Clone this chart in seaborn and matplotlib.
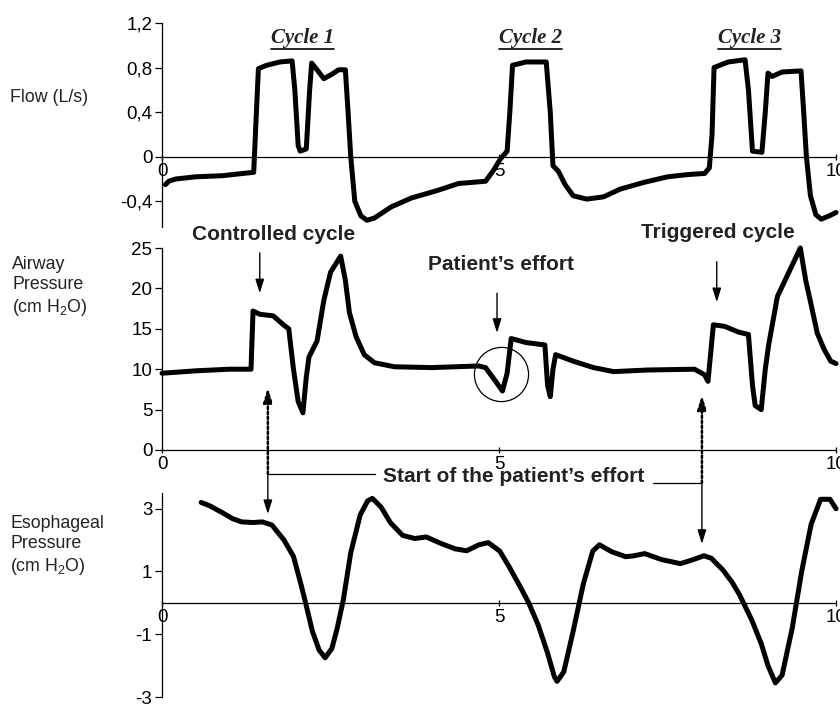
import matplotlib
matplotlib.use("Agg")
import matplotlib.pyplot as plt
import pandas as pd
import seaborn as sns
from matplotlib.lines import Line2D
from matplotlib.transforms import IdentityTransform

# Flow trace (L/s) against time (s)
flow_t = [0.05, 0.10, 0.20, 0.50, 0.90, 1.20, 1.36, 1.40, 1.43, 1.55, 1.75, 1.93,
          1.97, 2.02, 2.05, 2.14, 2.19, 2.22, 2.30, 2.40, 2.52, 2.62, 2.72, 2.76,
          2.80, 2.86, 2.95, 3.04, 3.15, 3.40, 3.70, 4.10, 4.40, 4.80, 4.92, 5.02,
          5.12, 5.16, 5.20, 5.40, 5.70, 5.76, 5.80, 5.88, 5.98, 6.10, 6.30, 6.55,
          6.80, 7.15, 7.50, 7.80, 8.05, 8.12, 8.16, 8.19, 8.40, 8.65, 8.70, 8.76,
          8.90, 8.95, 8.99, 9.05, 9.20, 9.48, 9.52, 9.56, 9.62, 9.70, 9.78, 9.90,
          10.0]
flow_v = [-0.25, -0.22, -0.20, -0.18, -0.17, -0.15, -0.14, 0.40, 0.79, 0.82, 0.85, 0.86,
          0.60, 0.10, 0.05, 0.07, 0.60, 0.84, 0.78, 0.70, 0.74, 0.78, 0.78, 0.40,
          0.00, -0.40, -0.53, -0.57, -0.55, -0.45, -0.37, -0.30, -0.24, -0.22, -0.12, -0.02,
          0.05, 0.40, 0.82, 0.85, 0.85, 0.40, -0.08, -0.13, -0.25, -0.35, -0.38, -0.36,
          -0.29, -0.23, -0.18, -0.16, -0.15, -0.10, 0.20, 0.80, 0.85, 0.87, 0.60, 0.05,
          0.04, 0.40, 0.75, 0.72, 0.76, 0.77, 0.40, 0.00, -0.35, -0.52, -0.56, -0.53,
          -0.50]

# Airway pressure (cm H2O)
paw_t = [0.00, 0.50, 1.00, 1.32, 1.35, 1.45, 1.65, 1.80, 1.88, 1.95, 2.02, 2.09,
         2.14, 2.18, 2.30, 2.40, 2.50, 2.65, 2.72, 2.78, 2.88, 3.00, 3.15, 3.45,
         4.00, 4.70, 4.80, 4.95, 5.05, 5.12, 5.18, 5.40, 5.68, 5.72, 5.76, 5.80,
         5.84, 6.10, 6.40, 6.70, 7.20, 7.90, 8.05, 8.10, 8.18, 8.35, 8.55, 8.70,
         8.76, 8.80, 8.89, 8.95, 9.00, 9.13, 9.30, 9.47, 9.55, 9.63, 9.72, 9.82,
         9.92, 10.0]
paw_v = [9.5, 9.8, 10.0, 10.0, 17.2, 16.8, 16.6, 15.5, 15.0, 10.0, 6.0, 4.6,
         9.0, 11.5, 13.5, 18.5, 22.0, 24.0, 21.0, 17.0, 14.0, 11.8, 10.8, 10.3,
         10.2, 10.4, 10.2, 8.5, 7.3, 9.5, 13.8, 13.3, 13.0, 8.0, 6.6, 10.0,
         11.8, 11.0, 10.2, 9.7, 9.9, 10.0, 9.3, 8.5, 15.5, 15.3, 14.6, 14.3,
         8.0, 5.5, 5.0, 10.0, 13.0, 19.0, 22.0, 25.0, 21.0, 18.0, 14.5, 12.5,
         11.0, 10.7]

# Esophageal pressure (cm H2O)
pes_t = [0.58, 0.70, 0.89, 1.05, 1.18, 1.35, 1.49, 1.63, 1.81, 1.95, 2.06, 2.13,
         2.23, 2.33, 2.42, 2.52, 2.60, 2.69, 2.80, 2.94, 3.05, 3.12, 3.25, 3.39,
         3.57, 3.75, 3.92, 4.13, 4.35, 4.52, 4.70, 4.84, 5.01, 5.15, 5.33, 5.44,
         5.58, 5.72, 5.82, 5.86, 5.96, 6.10, 6.25, 6.39, 6.49, 6.67, 6.88, 7.00,
         7.16, 7.41, 7.69, 7.87, 8.04, 8.15, 8.32, 8.46, 8.57, 8.75, 8.89, 8.99,
         9.10, 9.20, 9.35, 9.49, 9.63, 9.77, 9.91, 10.0]
pes_v = [3.2, 3.1, 2.88, 2.68, 2.58, 2.56, 2.58, 2.48, 2.0, 1.48, 0.6, 0.0,
         -0.9, -1.5, -1.75, -1.45, -0.8, 0.1, 1.6, 2.8, 3.25, 3.33, 3.05, 2.55,
         2.15, 2.05, 2.1, 1.9, 1.72, 1.66, 1.85, 1.92, 1.65, 1.15, 0.45, 0.0,
         -0.7, -1.6, -2.35, -2.5, -2.2, -0.9, 0.6, 1.65, 1.85, 1.63, 1.47, 1.5,
         1.57, 1.38, 1.25, 1.37, 1.5, 1.42, 1.05, 0.65, 0.25, -0.55, -1.3, -2.0,
         -2.55, -2.3, -0.8, 1.0, 2.5, 3.3, 3.3, 3.0]

flow_ticks = [-0.4, 0, 0.4, 0.8, 1.2]
flow_ticklabels = ["-0,4", "0", "0,4", "0,8", "1,2"]
paw_ticks = [0, 5, 10, 15, 20, 25]
pes_ticks = [-3, -1, 1, 3]
x_ticks = [0, 5, 10]

cycle_labels = ["Cycle 1", "Cycle 2", "Cycle 3"]
cycle_x = [2.08, 5.47, 8.72]
effort_start = [1.57, 8.01]

sns.set_theme(style="white")
plt.rcParams["font.family"] = ["Liberation Sans", "DejaVu Sans"]
plt.rcParams["mathtext.default"] = "regular"
plt.rcParams["axes.unicode_minus"] = False

fig = plt.figure(figsize=(8.4, 7.04), dpi=100)
ax_flow = fig.add_axes([0.1929, 0.6776, 0.8024, 0.2898])
ax_paw = fig.add_axes([0.1929, 0.3608, 0.8024, 0.2869])
ax_pes = fig.add_axes([0.1929, 0.0099, 0.8024, 0.2898])

df_flow = pd.DataFrame({"t": flow_t, "v": flow_v})
df_paw = pd.DataFrame({"t": paw_t, "v": paw_v})
df_pes = pd.DataFrame({"t": pes_t, "v": pes_v})

for ax, df in [(ax_flow, df_flow), (ax_paw, df_paw), (ax_pes, df_pes)]:
    sns.lineplot(data=df, x="t", y="v", ax=ax, color="black", linewidth=3.6,
                 estimator=None, sort=False, clip_on=False)
    ax.set_facecolor("none")
    ax.set_xlim(0, 10)
    ax.set_xlabel("")
    ax.set_ylabel("")
    for side in ["top", "right"]:
        ax.spines[side].set_visible(False)
    ax.spines["left"].set_color("black")
    ax.spines["left"].set_linewidth(0.9)
    ax.spines["bottom"].set_color("black")
    ax.spines["bottom"].set_linewidth(0.9)
    ax.spines["bottom"].set_position(("data", 0))
    ax.set_xticks(x_ticks)
    ax.set_xticklabels([str(v) for v in x_ticks])
    ax.tick_params(axis="y", direction="out", length=5, width=0.9, pad=2,
                   labelsize=13.5, left=True, colors="black")
    ax.tick_params(axis="x", direction="inout", length=5, width=0.9, pad=2,
                   labelsize=13.5, bottom=True, colors="black")
    ax.grid(False)

ax_flow.set_ylim(-0.63, 1.2)
ax_flow.set_yticks(flow_ticks)
ax_flow.set_yticklabels(flow_ticklabels)
ax_paw.set_ylim(0, 25)
ax_paw.set_yticks(paw_ticks)
ax_pes.set_ylim(-3, 3.5)
ax_pes.set_yticks(pes_ticks)
ax_pes.set_yticklabels([str(v) for v in pes_ticks])

# panel labels
lab = dict(ha="left", va="center", fontsize=12.8, color="#222222")
fig.text(10 / 840, 1 - 98 / 704, "Flow (L/s)", **lab)
fig.text(12 / 840, 1 - 287 / 704, "Airway\nPressure\n(cm H$_2$O)", linespacing=1.25, **lab)
fig.text(10 / 840, 1 - 546 / 704, "Esophageal\nPressure\n(cm H$_2$O)", linespacing=1.25, **lab)

# cycle titles (underlined afterwards)
cycle_texts = []
for label, xc in zip(cycle_labels, cycle_x):
    t = ax_flow.text(xc, 1.065, label, ha="center", va="center",
                     fontfamily="Liberation Serif", fontstyle="italic",
                     fontweight="bold", fontsize=15, color="#222222")
    cycle_texts.append(t)

arrow = dict(arrowstyle="-|>,head_length=0.7,head_width=0.22", color="black",
             lw=1.0, shrinkA=0, shrinkB=0, mutation_scale=12)
bold = dict(fontsize=15, fontweight="bold", ha="center", va="center", color="#222222")

ax_paw.text(1.65, 26.7, "Controlled cycle", **bold)
ax_paw.annotate("", xy=(1.45, 19.4), xytext=(1.45, 24.4), arrowprops=arrow,
                annotation_clip=False)
ax_paw.text(5.03, 22.9, "Patient\u2019s effort", **bold)
ax_paw.annotate("", xy=(4.97, 14.5), xytext=(4.97, 19.4), arrowprops=arrow,
                annotation_clip=False)
ax_paw.text(8.25, 26.9, "Triggered cycle", **bold)
ax_paw.annotate("", xy=(8.23, 18.3), xytext=(8.23, 23.3), arrowprops=arrow,
                annotation_clip=False)
ax_paw.plot([5.03], [9.4], marker="o", ms=39, mfc="none", mec="black", mew=0.9)

# start of the patient's effort: dotted up-arrows, solid down-arrows
ax_paw.text(5.21, -3.34, "Start of the patient\u2019s effort", **bold)
junction_y = [-2.97, -4.08]
top_tip = [7.7, 6.8]
bottom_tip = [2.83, 1.88]
connector_x = [3.16, 7.28]
dotted = dict(arrow, linestyle=(0, (1, 1)), lw=1.8)
for xs, jy, tt, bt, cx in zip(effort_start, junction_y, top_tip, bottom_tip, connector_x):
    ax_paw.annotate("", xy=(xs, tt), xytext=(xs, jy), arrowprops=dotted,
                    annotation_clip=False)
    ax_pes.annotate("", xy=(xs, bt), xycoords="data", xytext=(xs, jy),
                    textcoords=ax_paw.transData, arrowprops=arrow,
                    annotation_clip=False)
    ax_paw.plot([xs, cx], [jy, jy], color="black", lw=0.9, clip_on=False)

fig.canvas.draw()
renderer = fig.canvas.get_renderer()
for t in cycle_texts:
    bb = t.get_window_extent(renderer)
    fig.add_artist(Line2D([bb.x0, bb.x1], [bb.y0 - 1, bb.y0 - 1], color="black",
                          lw=1.2, transform=IdentityTransform()))

fig.savefig("out.png", dpi=100)
